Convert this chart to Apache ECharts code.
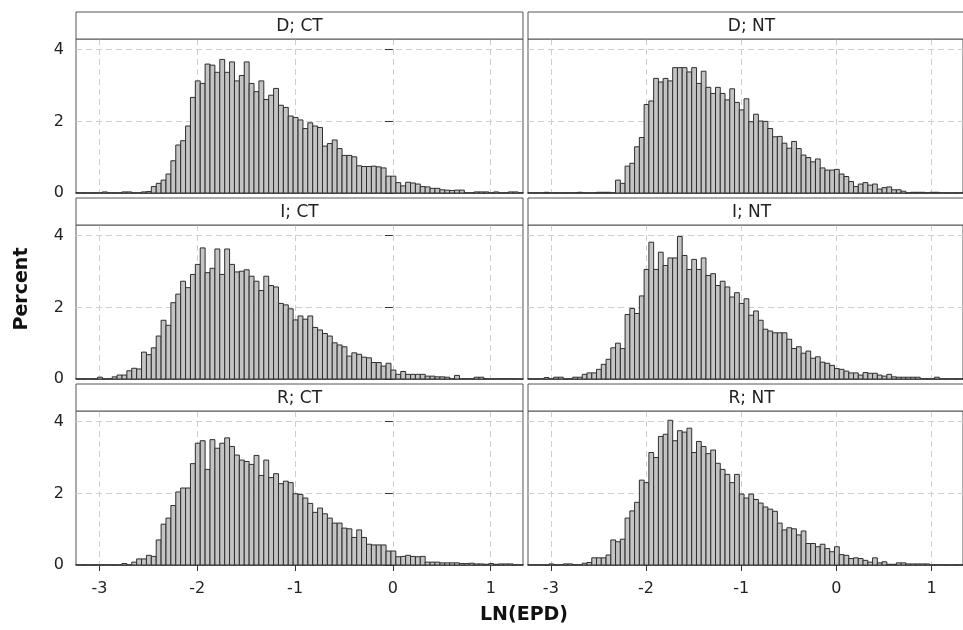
<!DOCTYPE html>
<html><head><meta charset="utf-8">
<script src="https://cdn.jsdelivr.net/npm/echarts@6/dist/echarts.min.js"></script>
<style>html,body{margin:0;padding:0;background:#fff}#c{width:963px;height:630px}</style>
</head><body><div id="c"></div>
<script>
// ---- data ----
const BIN_START = -3.245;   // centre of first bin
const BIN_WIDTH = 0.05;
const X_TICKS = [-3, -2, -1, 0, 1];
const Y_TICKS = [0, 2, 4];
const PANEL_TITLES = ['D; CT', 'D; NT', 'I; CT', 'I; NT', 'R; CT', 'R; NT'];

const D_CT = [0,0,0,0,0,0,0.03,0,0,0,0.03,0.03,0,0,0.03,0.04,
  0.18,0.27,0.36,0.53,0.90,1.34,1.46,1.87,2.67,
  3.13,3.06,3.60,3.57,3.37,3.73,3.37,3.66,3.13,3.28,3.66,3.06,2.83,3.13,2.61,2.73,2.92,2.45,2.39,2.15,
  2.11,2.04,1.80,1.96,1.87,1.83,1.31,1.38,1.48,1.24,1.05,1.05,1.01,0.76,0.74,0.74,0.75,0.73,0.70,0.47,
  0.47,0.29,0.20,0.30,0.28,0.25,0.18,0.17,0.13,0.13,
  0.09,0.08,0.07,0.08,0.08,0,0,0.03,0.03,0.03,0,0.03,0,0,0.03,0.03];
const D_NT = [0,0,0,0,0.02,0,0,0,0,0,0,0.02,0,0,0,0.02,0.02,0.02,0,
  0.36,0.27,0.75,0.83,1.29,1.55,
  2.47,2.57,3.20,3.10,3.20,3.13,3.50,3.50,3.50,3.38,3.50,3.06,3.40,2.95,2.78,2.95,2.78,2.60,2.91,2.53,
  2.32,2.63,1.99,2.20,2.01,2.00,1.80,1.57,1.58,1.39,1.25,1.44,1.24,1.06,0.99,0.87,0.95,0.70,0.64,0.64,
  0.66,0.53,0.46,0.32,0.18,0.25,0.29,0.22,0.25,0.11,
  0.15,0.17,0.09,0.09,0.05,0,0.02,0.02,0.02,0,0.02,0.02,0,0,0,0];
const I_CT = [0,0,0,0,0,0.05,0,0,0.06,0.11,0.11,0.23,0.30,0.28,
  0.75,0.68,0.87,1.20,1.64,1.50,2.13,2.37,2.73,2.55,2.92,
  3.20,3.66,2.97,3.09,3.63,2.92,3.63,3.20,2.99,3.01,3.05,2.87,2.73,2.47,2.87,2.61,2.57,2.11,2.07,1.96,
  1.65,1.76,1.67,1.76,1.44,1.37,1.27,1.20,1.01,0.95,0.90,0.64,0.73,0.69,0.61,0.59,0.46,0.46,0.36,0.44,
  0.25,0.13,0.21,0.13,0.13,0.13,0.13,0.08,0.08,0.06,
  0.06,0.05,0,0.10,0,0,0,0.05,0.05,0,0,0,0,0,0,0];
const I_NT = [0,0,0,0,0.04,0,0.05,0.05,0,0,0.05,0.05,0.13,
  0.17,0.17,0.27,0.41,0.55,0.87,1.00,0.85,1.80,1.97,1.83,2.32,
  3.06,3.82,3.06,3.54,3.17,3.38,3.38,3.98,3.45,3.06,3.34,3.06,3.38,2.89,2.94,2.61,2.73,2.57,2.29,2.41,
  2.11,2.24,1.78,1.90,1.64,1.39,1.34,1.29,1.29,1.29,1.11,0.85,0.90,0.72,0.78,0.58,0.62,0.47,0.44,0.38,
  0.29,0.27,0.22,0.17,0.17,0.11,0.18,0.16,0.16,0.11,0.08,
  0.13,0.06,0.05,0.05,0.05,0.05,0.05,0,0,0,0.05,0,0,0,0];
const R_CT = [0,0,0,0,0,0,0,0,0,0,0.04,0,0.08,
  0.17,0.17,0.27,0.24,0.70,1.14,1.31,1.66,2.04,2.15,2.15,2.83,
  3.40,3.47,2.67,3.50,3.26,3.40,3.55,3.31,3.07,2.93,2.89,2.81,3.06,2.50,2.93,2.44,2.55,2.27,2.34,2.30,
  1.99,1.97,1.87,1.72,1.47,1.59,1.43,1.31,1.17,1.17,1.03,1.01,0.77,0.98,0.77,0.58,0.56,0.56,0.56,0.39,
  0.39,0.23,0.24,0.27,0.24,0.23,0.24,0.08,0.08,0.08,
  0.06,0.06,0.06,0.06,0.04,0.04,0.05,0.03,0.03,0.02,0.04,0.02,0.03,0.03,0.03,0];
const R_NT = [0,0,0,0,0,0.03,0,0,0.03,0.03,0,0,0.05,
  0.07,0.20,0.20,0.20,0.28,0.70,0.65,0.72,1.31,1.51,1.75,2.37,2.30,3.14,3.00,3.59,3.65,4.04,3.47,3.75,3.71,3.82,
  3.14,3.45,3.31,3.11,3.21,2.84,2.67,2.53,2.30,2.53,1.98,1.87,1.98,1.83,1.73,1.62,1.56,1.50,1.17,0.98,
  1.04,1.01,0.84,0.95,0.60,0.60,0.51,0.58,0.46,0.37,0.51,0.29,0.27,0.18,0.20,0.18,0.13,0.08,0.20,0.06,0.09,
  0.02,0.02,0.06,0.06,0.03,0.03,0.03,0.03,0.03,0,0,0,0,0,0];
const PANEL_VALUES = [D_CT, D_NT, I_CT, I_NT, R_CT, R_NT];

// ---- layout ----
const X_MIN = -3.24, X_MAX = 1.33, Y_MAX = 4.3;
const COL_LEFT = [76, 528];
const PANEL_W = 447;
const HEAD_TOP = [12, 198, 384];
const HEAD_H = 27;
const PLOT_BOTTOM = [193, 379, 565];
const FONT = 'DejaVu Sans';

function renderBar(params, api) {
  const c = api.value(0), v = api.value(1);
  const a = api.coord([c - BIN_WIDTH / 2, v]);
  const b = api.coord([c + BIN_WIDTH / 2, 0]);
  return {
    type: 'rect',
    shape: { x: a[0], y: a[1], width: b[0] - a[0], height: b[1] - a[1] },
    style: { fill: '#c4c4c4', stroke: '#2e2e2e', lineWidth: 1 }
  };
}

const grids = [], xAxes = [], yAxes = [], series = [], graphics = [];
for (let i = 0; i < 6; i++) {
  const r = Math.floor(i / 2), c = i % 2;
  const top = HEAD_TOP[r] + HEAD_H;
  const isBottom = r === 2, isLeft = c === 0;
  grids.push({
    left: COL_LEFT[c], top: top, width: PANEL_W, height: PLOT_BOTTOM[r] - top,
    show: true, borderColor: '#555', borderWidth: 1, backgroundColor: '#fff'
  });
  xAxes.push({
    type: 'value', gridIndex: i, min: X_MIN, max: X_MAX,
    axisLine: { show: true, onZero: false, lineStyle: { color: '#222', width: 1.5 } },
    axisTick: { show: isBottom, customValues: X_TICKS, length: 6, lineStyle: { color: '#333' } },
    axisLabel: { show: isBottom, customValues: X_TICKS, fontSize: 16, color: '#222', fontFamily: FONT, margin: 16 },
    splitLine: { show: true, lineStyle: { color: '#cfcfcf', type: [6, 4], width: 1 } }
  });
  yAxes.push({
    type: 'value', gridIndex: i, min: 0, max: Y_MAX,
    axisLine: { show: false },
    axisTick: { show: isLeft, customValues: Y_TICKS, length: 8, lineStyle: { color: '#333' } },
    axisLabel: { show: isLeft, customValues: Y_TICKS, fontSize: 16, color: '#222', fontFamily: FONT, margin: 12 },
    splitLine: { show: true, lineStyle: { color: '#cfcfcf', type: [6, 4], width: 1 } }
  });
  const data = [];
  PANEL_VALUES[i].forEach((v, k) => {
    if (v > 0) data.push([+(BIN_START + k * BIN_WIDTH).toFixed(3), v]);
  });
  series.push({
    type: 'custom', xAxisIndex: i, yAxisIndex: i, renderItem: renderBar,
    encode: { x: 0, y: 1 }, data: data, clip: true, silent: true, z: 3
  });
  graphics.push({
    type: 'rect', shape: { x: COL_LEFT[c], y: HEAD_TOP[r], width: PANEL_W, height: HEAD_H },
    style: { fill: '#fff', stroke: '#555', lineWidth: 1 }, z: 10
  });
  graphics.push({
    type: 'text', x: COL_LEFT[c] + PANEL_W / 2, y: HEAD_TOP[r] + HEAD_H / 2 + 1, z: 11,
    style: { text: PANEL_TITLES[i], fill: '#222', font: '17px "' + FONT + '"', textAlign: 'center', textVerticalAlign: 'middle' }
  });
}
graphics.push({
  type: 'text', x: 22, y: 289, rotation: Math.PI / 2, z: 11,
  style: { text: 'Percent', fill: '#111', font: 'bold 19px "' + FONT + '"', textAlign: 'center', textVerticalAlign: 'middle' }
});
graphics.push({
  type: 'text', x: 524, y: 615, z: 11,
  style: { text: 'LN(EPD)', fill: '#111', font: 'bold 19px "' + FONT + '"', textAlign: 'center', textVerticalAlign: 'middle' }
});

const chart = echarts.init(document.getElementById('c'), null, { renderer: 'canvas' });
chart.setOption({
  backgroundColor: '#fff', animation: false,
  grid: grids, xAxis: xAxes, yAxis: yAxes, series: series, graphic: graphics
});
</script></body></html>
